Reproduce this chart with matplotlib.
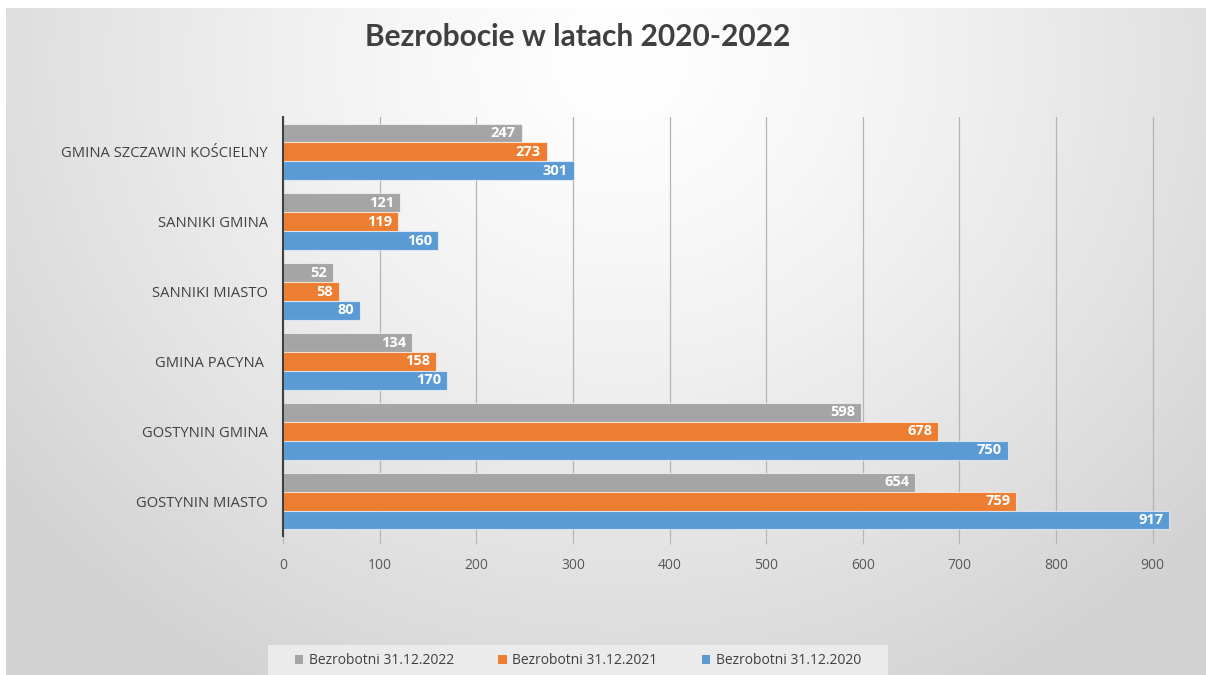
import numpy as np
import matplotlib
matplotlib.use("Agg")
import matplotlib.pyplot as plt
from matplotlib.patches import Rectangle

categories = ["GOSTYNIN MIASTO", "GOSTYNIN GMINA", "GMINA PACYNA ", "SANNIKI MIASTO",
              "SANNIKI GMINA", "GMINA SZCZAWIN KOŚCIELNY"]
v2022 = [654, 598, 134, 52, 121, 247]
v2021 = [759, 678, 158, 58, 119, 273]
v2020 = [917, 750, 170, 80, 160, 301]
series_names = ["Bezrobotni 31.12.2022", "Bezrobotni 31.12.2021", "Bezrobotni 31.12.2020"]
colors = ["#a5a5a5", "#ed7d31", "#5b9bd5"]
xticks = [0, 100, 200, 300, 400, 500, 600, 700, 800, 900]

plt.rcParams['font.family'] = ['Open Sans', 'DejaVu Sans']

W, H = 1206, 675
fig = plt.figure(figsize=(W / 100, H / 100), dpi=100)

# background radial gradient
bg = fig.add_axes([0, 0, 1, 1])
bg.set_axis_off()
yy, xx = np.mgrid[0:H, 0:W]
cx, cy = 620, 60
d = np.sqrt(((xx - cx) / 760.0) ** 2 + ((yy - cy) / 700.0) ** 2)
d = np.clip(d, 0, 1)
val = 1.0 - 0.17 * d ** 1.3
img = np.dstack([val, val, val])
img[:8, :, :] = 1.0
img[:, :6, :] = 1.0
bg.imshow(img, extent=[0, W, H, 0], aspect='auto', interpolation='bilinear')
bg.set_xlim(0, W)
bg.set_ylim(H, 0)

# legend box
bg.add_patch(Rectangle((268, 645), 620, 32, facecolor="#ebebeb", edgecolor="none"))

# main axes
left, right, top, bottom = 283, 1172, 117, 536
ax = fig.add_axes([left / W, 1 - bottom / H, (right - left) / W, (bottom - top) / H])
ax.patch.set_alpha(0)

y = np.arange(len(categories))
h = 0.27
offs = [h, 0, -h]
vals = [v2022, v2021, v2020]
for s in range(3):
    bars = ax.barh(y + offs[s], vals[s], height=h, color=colors[s],
                   edgecolor=(1, 1, 1, 0.6), linewidth=0.8, label=series_names[s], zorder=3)
    for b, v in zip(bars, vals[s]):
        ax.text(b.get_width() - 6, b.get_y() + b.get_height() / 2, str(v),
                ha='right', va='center', color='white', fontsize=10.5, fontweight='bold', zorder=4)

ax.set_xlim(0, 920)
ax.set_ylim(-0.5, len(categories) - 0.5)
ax.set_xticks(xticks)
ax.set_xticklabels([str(t) for t in xticks], color="#595959", fontsize=10)
ax.set_yticks(y)
ax.set_yticklabels(categories, color="#404040", fontsize=10.6)
ax.tick_params(axis='y', length=0, pad=11)
ax.tick_params(axis='x', length=6, color="#b4b4b4", pad=10)
ax.grid(axis='x', color="#b4b4b4", linewidth=0.9, zorder=0)
for sp in ['top', 'right', 'bottom']:
    ax.spines[sp].set_visible(False)
ax.spines['left'].set_color("#404040")
ax.spines['left'].set_linewidth(1.5)
ax.spines['left'].set_zorder(5)

fig.text(578 / W, 1 - 37 / H, "Bezrobocie w latach 2020-2022", ha='center', va='center',
         fontsize=21.5, fontweight='bold', color="#404040", family=['Lato', 'DejaVu Sans'])

handles = [Rectangle((0, 0), 1, 1, facecolor=c) for c in colors]
fig.legend(handles, series_names, loc='center', bbox_to_anchor=(578 / W, 1 - 661 / H),
           ncol=3, frameon=False, fontsize=10, handlelength=0.6, handleheight=0.6,
           handletextpad=0.4, columnspacing=3.2, labelcolor="#404040")

fig.savefig("out.png", dpi=100)
